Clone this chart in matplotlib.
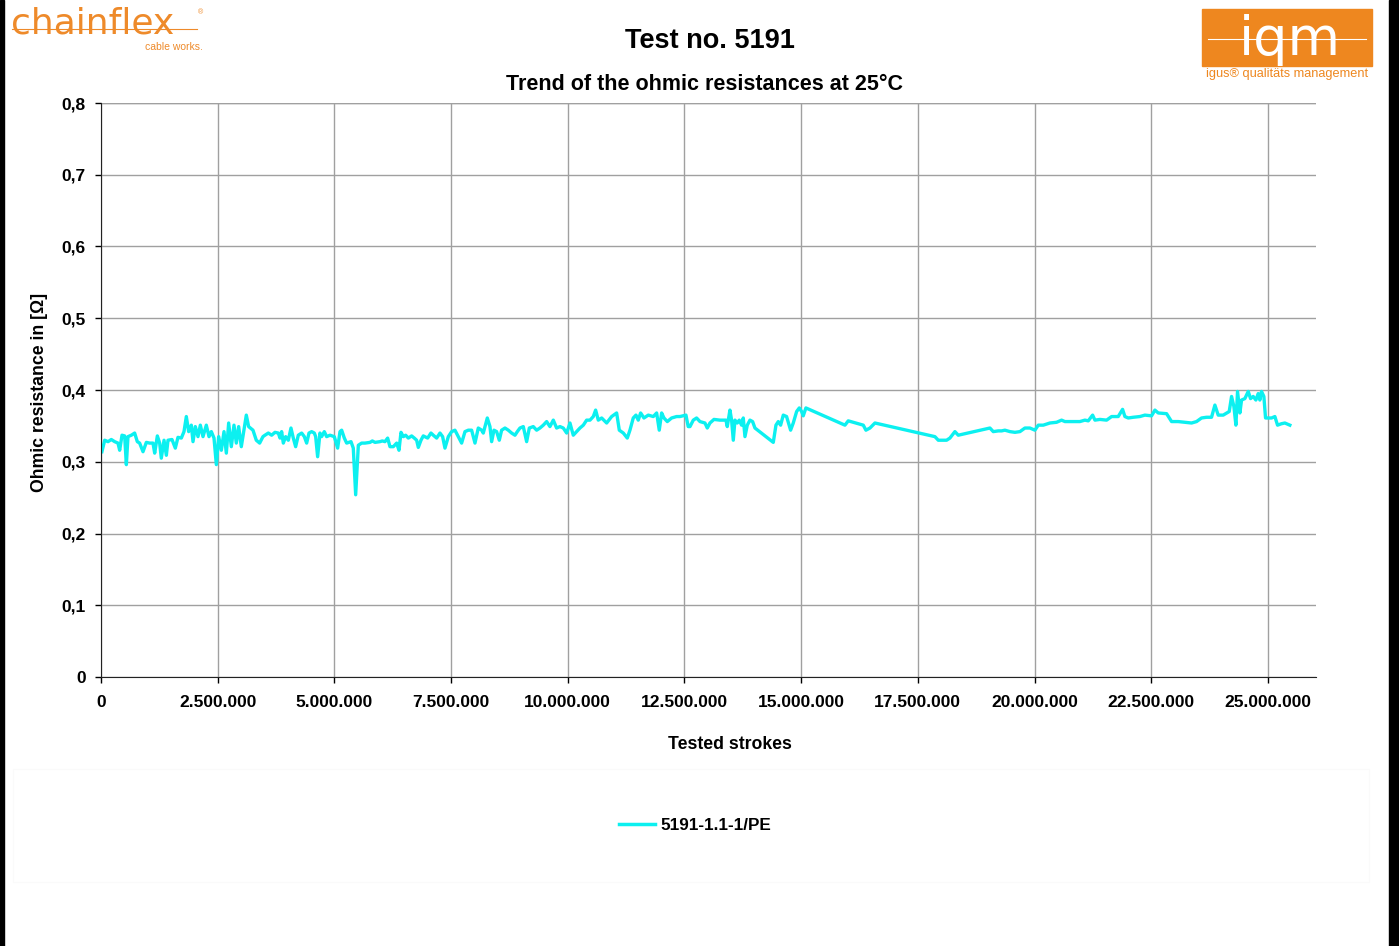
import numpy as np
import matplotlib
matplotlib.use('Agg')
from matplotlib import pyplot as plt
from matplotlib.patches import Rectangle
from matplotlib.lines import Line2D
from matplotlib.ticker import FuncFormatter, MultipleLocator

plt.rcParams['font.family'] = ['Liberation Sans', 'DejaVu Sans']
plt.rcParams['font.weight'] = 'bold'

# tested strokes (millions) and ohmic resistance (Ohm)
strokes_mio = [
    0.02, 0.079, 0.15, 0.221, 0.293, 0.364, 0.40, 0.45, 0.507, 0.543, 0.578, 0.65, 0.721, 0.778,
    0.828, 0.90, 0.971, 1.043, 1.114, 1.15, 1.207, 1.257, 1.292, 1.35, 1.40, 1.435, 1.521, 1.592,
    1.649, 1.721, 1.778, 1.828, 1.878, 1.935, 1.971, 2.021, 2.078, 2.128, 2.185, 2.256, 2.314,
    2.364, 2.421, 2.471, 2.521, 2.578, 2.635, 2.685, 2.735, 2.792, 2.849, 2.899, 2.949, 3.006,
    3.063, 3.113, 3.163, 3.256, 3.327, 3.399, 3.47,
    3.513, 3.585, 3.656, 3.727, 3.799, 3.835, 3.870, 3.906, 3.956, 4.013, 4.070, 4.120, 4.170,
    4.227, 4.299, 4.356, 4.406, 4.456, 4.513, 4.570, 4.599, 4.641, 4.691, 4.727, 4.784, 4.834,
    4.906, 4.998, 5.070, 5.120, 5.156, 5.213, 5.263, 5.356, 5.405, 5.456, 5.513, 5.584, 5.655,
    5.763, 5.813, 5.870, 5.977, 6.027, 6.084, 6.141, 6.191, 6.262, 6.334, 6.384, 6.427, 6.477,
    6.527, 6.584, 6.655, 6.712, 6.762, 6.798, 6.855, 6.905, 6.998, 7.069, 7.119,
    7.191, 7.262, 7.319, 7.369, 7.441, 7.512, 7.583, 7.655, 7.726, 7.798, 7.869, 7.940, 8.012,
    8.083, 8.155, 8.190, 8.276, 8.333, 8.369, 8.419, 8.476, 8.533, 8.583, 8.655, 8.726, 8.797,
    8.869, 8.919, 8.976, 9.047, 9.119, 9.176, 9.261, 9.333, 9.404, 9.476, 9.547, 9.618, 9.690,
    9.761, 9.833, 9.904, 9.976, 10.047, 10.118, 10.190, 10.261, 10.333, 10.404, 10.476, 10.547,
    10.597, 10.654,
    10.726, 10.833, 10.940, 11.047, 11.104, 11.19, 11.275, 11.332, 11.403, 11.461, 11.51, 11.561,
    11.632, 11.725, 11.832, 11.904, 11.96, 12.011, 12.061, 12.132, 12.225, 12.332, 12.403,
    12.532, 12.58,
    12.618, 12.689, 12.760, 12.832, 12.939, 12.989, 13.046, 13.132, 13.260, 13.389, 13.417,
    13.474, 13.510, 13.546, 13.582, 13.632, 13.674, 13.724, 13.760, 13.796, 13.846, 13.903,
    13.960, 14.010, 14.403, 14.460, 14.510, 14.560, 14.617, 14.688, 14.774, 14.831, 14.903,
    14.960, 15.010, 15.045, 15.102, 15.938, 16.009, 16.331, 16.388, 16.474, 16.581, 17.866,
    17.938, 18.116, 18.187, 18.294, 18.366, 19.044, 19.116, 19.223, 19.294,
    19.365, 19.473, 19.580, 19.687, 19.794, 19.901, 20.008, 20.080, 20.187, 20.329, 20.472,
    20.579, 20.651, 20.794, 20.972, 21.079, 21.151, 21.244, 21.294, 21.401, 21.544, 21.651,
    21.793, 21.886, 21.936, 22.008, 22.115, 22.257, 22.364, 22.507, 22.579, 22.650, 22.829,
    22.936, 23.078, 23.221, 23.364, 23.471, 23.578, 23.685, 23.792, 23.864, 23.935, 24.042,
    24.171, 24.221, 24.271, 24.314, 24.349, 24.399, 24.435, 24.506, 24.578, 24.628, 24.685,
    24.742, 24.792, 24.827, 24.863, 24.913, 24.949, 25.078, 25.149, 25.206, 25.291, 25.363,
    25.470,
]
resistance = [
    0.314, 0.330, 0.328, 0.331, 0.328, 0.326, 0.316, 0.337, 0.336, 0.296, 0.335, 0.337, 0.340, 0.328,
    0.326, 0.314, 0.327, 0.326, 0.326, 0.312, 0.336, 0.326, 0.305, 0.330, 0.309, 0.330, 0.331, 0.319,
    0.334, 0.333, 0.342, 0.363, 0.342, 0.351, 0.328, 0.349, 0.335, 0.351, 0.335, 0.351, 0.335,
    0.342, 0.333, 0.296, 0.335, 0.316, 0.342, 0.312, 0.354, 0.321, 0.351, 0.326, 0.349, 0.321,
    0.344, 0.365, 0.349, 0.344, 0.330, 0.326, 0.335,
    0.337, 0.340, 0.337, 0.341, 0.340, 0.333, 0.342, 0.326, 0.335, 0.330, 0.347, 0.333, 0.321,
    0.337, 0.340, 0.335, 0.326, 0.340, 0.342, 0.340, 0.335, 0.307, 0.340, 0.335, 0.342, 0.335,
    0.337, 0.335, 0.319, 0.342, 0.344, 0.333, 0.326, 0.328, 0.319, 0.254, 0.323, 0.326, 0.326,
    0.327, 0.329, 0.327, 0.328, 0.329, 0.328, 0.333, 0.321, 0.321, 0.326, 0.316, 0.341, 0.335,
    0.337, 0.333, 0.336, 0.333, 0.330, 0.320, 0.330, 0.336, 0.333, 0.340, 0.337,
    0.333, 0.340, 0.335, 0.319, 0.335, 0.342, 0.344, 0.335, 0.326, 0.342, 0.344, 0.344, 0.326,
    0.347, 0.344, 0.340, 0.361, 0.349, 0.328, 0.344, 0.342, 0.330, 0.344, 0.347, 0.344, 0.340,
    0.337, 0.342, 0.347, 0.349, 0.328, 0.347, 0.349, 0.344, 0.347, 0.351, 0.356, 0.349, 0.358,
    0.347, 0.349, 0.347, 0.340, 0.354, 0.337, 0.342, 0.347, 0.351, 0.358, 0.358, 0.363,
    0.372, 0.358,
    0.361, 0.354, 0.363, 0.368, 0.344, 0.340, 0.333, 0.344, 0.361, 0.365, 0.358, 0.368,
    0.361, 0.365, 0.363, 0.368, 0.344, 0.368, 0.361, 0.356, 0.361, 0.363, 0.363,
    0.365, 0.349,
    0.349, 0.358, 0.361, 0.356, 0.354, 0.347, 0.354, 0.359, 0.358, 0.358, 0.349,
    0.372, 0.358, 0.330, 0.358, 0.354, 0.358, 0.351, 0.361, 0.335, 0.351, 0.358,
    0.356, 0.347, 0.327, 0.351, 0.356, 0.351, 0.365, 0.363, 0.344, 0.354, 0.370,
    0.375, 0.370, 0.364, 0.375, 0.351, 0.357, 0.351, 0.344, 0.347, 0.354, 0.335,
    0.330, 0.330, 0.333, 0.342, 0.337, 0.347, 0.342, 0.343, 0.343,
    0.344, 0.342, 0.341, 0.342, 0.347, 0.347, 0.344, 0.351, 0.351, 0.354, 0.355,
    0.358, 0.356, 0.356, 0.356, 0.358, 0.357, 0.365, 0.358, 0.359, 0.358, 0.363,
    0.363, 0.373, 0.363, 0.361, 0.362, 0.363, 0.365, 0.364, 0.372, 0.368, 0.367,
    0.356, 0.356, 0.355, 0.354, 0.356, 0.361, 0.362, 0.362, 0.379, 0.365, 0.365,
    0.370, 0.391, 0.377, 0.351, 0.398, 0.368, 0.386, 0.388, 0.398, 0.388, 0.391,
    0.386, 0.395, 0.386, 0.398, 0.391, 0.361, 0.361, 0.363, 0.351, 0.353, 0.354,
    0.351,
]
series_name = "5191-1.1-1/PE"

strokes = np.array(strokes_mio) * 1e6

W, H = 1399, 946
fig = plt.figure(figsize=(W / 100, H / 100), dpi=100)
ax = fig.add_axes([101 / W, 1 - 677 / H, (1316 - 101) / W, (677 - 103) / H])

ax.plot(strokes, resistance, color='#0CF0F0', linewidth=2.4, solid_joinstyle='round')

ax.set_xlim(0, 26.03e6)
ax.set_ylim(0, 0.8)
ax.xaxis.set_major_locator(MultipleLocator(2.5e6))
ax.yaxis.set_major_locator(MultipleLocator(0.1))
ax.xaxis.set_major_formatter(FuncFormatter(lambda v, p: f"{int(round(v)):,}".replace(",", ".")))
ax.yaxis.set_major_formatter(FuncFormatter(lambda v, p: "0" if abs(v) < 1e-9 else f"{v:.1f}".replace(".", ",")))
ax.grid(True, color='#A0A0A0', linewidth=1)
ax.set_axisbelow(True)
for s in ['top', 'right']:
    ax.spines[s].set_visible(False)
ax.axhline(0.8, color='#A0A0A0', linewidth=1, zorder=0)
ax.spines['left'].set_color('#222222')
ax.spines['bottom'].set_color('#222222')
ax.tick_params(axis='both', length=4, width=1, pad=7, labelsize=12.5, colors='black')
ax.tick_params(axis='x', pad=9)
for lab in ax.get_xticklabels() + ax.get_yticklabels():
    lab.set_fontweight('bold')

fig.text(710 / W, 1 - 41 / H, "Test no. 5191", ha='center', va='center', fontsize=19.5, fontweight='bold')
fig.text(704.5 / W, 1 - 85 / H, "Trend of the ohmic resistances at 25°C", ha='center', va='center',
         fontsize=15.5, fontweight='bold')
fig.text(730 / W, 1 - 744 / H, "Tested strokes", ha='center', va='center', fontsize=12.7, fontweight='bold')
fig.text(40 / W, 1 - 392 / H, "Ohmic resistance in [Ω]", ha='center', va='center', rotation=90,
         fontsize=12.7, fontweight='bold')

# legend area
fig.patches.append(Rectangle((13 / W, 1 - 882 / H), 1356 / W, 113 / H, transform=fig.transFigure,
                             fill=False, edgecolor='#FAFAFA', linewidth=0.8))
handle = Line2D([], [], color='#0CF0F0', linewidth=2.5)
fig.legend([handle], [series_name], loc='center', bbox_to_anchor=(695 / W, 1 - 825 / H),
           frameon=False, handlelength=2.1, handletextpad=0.3, prop={'size': 12.3, 'weight': 'bold'})

# black side strips
fig.patches.append(Rectangle((0, 0), 4 / W, 1, transform=fig.transFigure, color='black'))
fig.patches.append(Rectangle((1389 / W, 0), 10 / W, 1, transform=fig.transFigure, color='black'))

# chainflex logo
orange = '#EE8A2A'
fig.text(11 / W, 1 - 33 / H, "chainflex", ha='left', va='baseline', fontsize=26, color=orange,
         family=['DejaVu Sans'], fontweight='normal')
fig.lines.append(Line2D([12 / W, 197 / W], [1 - 29 / H, 1 - 29 / H], transform=fig.transFigure,
                        color=orange, linewidth=0.8))
fig.text(203 / W, 1 - 47 / H, "cable works.", ha='right', va='center', fontsize=7.5, color=orange,
         fontweight='normal')
fig.text(201 / W, 1 - 13 / H, "®", ha='center', va='center', fontsize=5, color=orange, fontweight='normal')

# iqm logo
iqm_orange = '#EE871F'
fig.patches.append(Rectangle((1202 / W, 1 - 66 / H), 170 / W, 57 / H, transform=fig.transFigure,
                             color=iqm_orange))
fig.text(1290 / W, 1 - 55 / H, "iqm", ha='center', va='baseline', fontsize=39, color='white',
         family=['DejaVu Sans'], fontweight='normal')
fig.lines.append(Line2D([1208 / W, 1366 / W], [1 - 39 / H, 1 - 39 / H], transform=fig.transFigure,
                        color='white', linewidth=0.8))
fig.text(1287 / W, 1 - 74 / H, "igus® qualitäts management", ha='center', va='center', fontsize=9.2,
         color=iqm_orange, fontweight='normal')

fig.savefig("out.png", dpi=100)
